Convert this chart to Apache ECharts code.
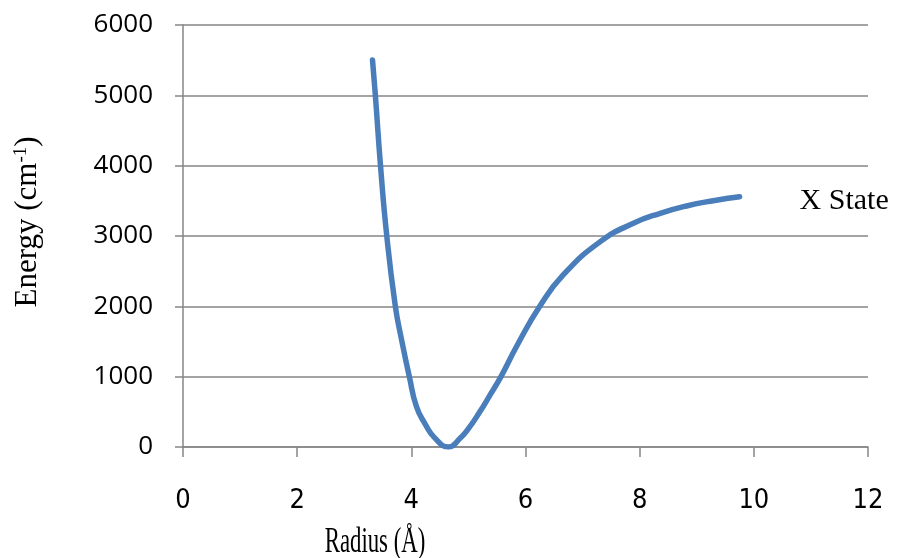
<!DOCTYPE html>
<html>
<head>
<meta charset="utf-8">
<script src="https://cdn.jsdelivr.net/npm/echarts@6/dist/echarts.min.js"></script>
<style>html,body{margin:0;padding:0;background:#fff}#c{width:897px;height:558px}</style>
</head>
<body>
<div id="c"></div>
<script>
// Data
var radius = [3.32, 3.37, 3.46, 3.57, 3.72, 3.83, 3.965, 4.09, 4.24, 4.41, 4.65, 4.85, 5.00, 5.20, 5.38, 5.57, 5.85, 6.25, 6.66, 7.31, 7.89, 8.36, 8.82, 9.29, 9.75];
var energy = [5503, 5000, 4000, 3000, 2000, 1521, 1000, 573, 330, 130, 0, 120, 260, 500, 740, 1000, 1440, 2000, 2446, 2920, 3181, 3323, 3427, 3502, 3559];
var xTicks = [0, 2, 4, 6, 8, 10, 12];
var yTicks = [0, 1000, 2000, 3000, 4000, 5000, 6000];
var seriesName = 'X State';
var xTitle = 'Radius (Å)';

var data = radius.map(function (r, i) { return [r, energy[i]]; });
var gray = '#868686';
var chart = echarts.init(document.getElementById('c'));
chart.setOption({
  animation: false,
  backgroundColor: '#fff',
  grid: { left: 183, right: 29, top: 25, bottom: 111, containLabel: false },
  xAxis: {
    type: 'value', min: xTicks[0], max: xTicks[xTicks.length - 1], interval: 2,
    axisLine: { show: true, lineStyle: { color: gray, width: 1.5 } },
    axisTick: { show: true, length: 10, lineStyle: { color: gray, width: 1.5 } },
    splitLine: { show: false },
    axisLabel: { margin: 40, color: '#000', fontSize: 27, fontFamily: "'Liberation Sans Narrow','DejaVu Sans Condensed','Open Sans',sans-serif" }
  },
  yAxis: {
    type: 'value', min: yTicks[0], max: yTicks[yTicks.length - 1], interval: 1000,
    axisLine: { show: true, lineStyle: { color: gray, width: 1.5 } },
    axisTick: { show: true, length: 8, lineStyle: { color: gray, width: 1.5 } },
    splitLine: { show: true, lineStyle: { color: gray, width: 1.5 } },
    axisLabel: { margin: 30, color: '#000', fontSize: 26, fontFamily: "'Open Sans',sans-serif", formatter: function (v) { return String(v); } }
  },
  series: [{
    name: seriesName,
    type: 'line',
    data: data,
    smooth: 0.5,
    symbol: 'none',
    lineStyle: { color: '#4a7ebb', width: 5.5, cap: 'round' },
    endLabel: {
      show: true, formatter: seriesName, distance: 60, offset: [0, 4],
      color: '#000', fontSize: 30, fontFamily: "'Liberation Serif','Times New Roman',serif"
    }
  }],
  graphic: [
    {
      type: 'text', x: 375, y: 543, scaleX: 0.65,
      style: { text: xTitle, fill: '#000', font: "35px 'Liberation Serif', serif", textAlign: 'center', textVerticalAlign: 'middle' }
    },
    {
      type: 'text', x: 28, y: 222, rotation: Math.PI / 2,
      style: {
        text: 'Energy (cm{sup|-1})', fill: '#000', font: "31px 'Liberation Serif', serif",
        textAlign: 'center', textVerticalAlign: 'middle',
        rich: { sup: { fontSize: 19, fontFamily: 'Liberation Serif', fill: '#000', verticalAlign: 'top', padding: [0, 0, 14, 0] } }
      }
    }
  ]
});
</script>
</body>
</html>
